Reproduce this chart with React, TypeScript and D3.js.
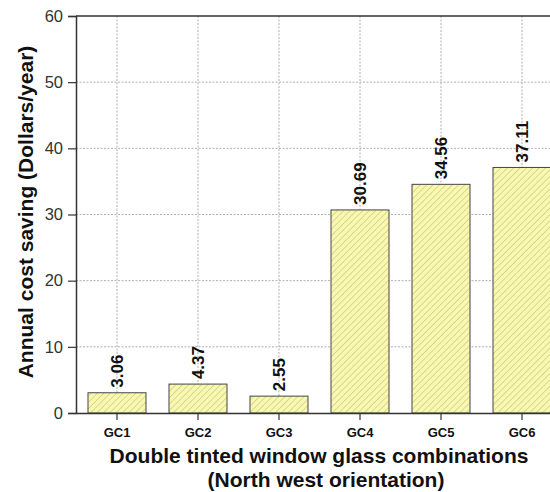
import React, { useEffect, useRef } from 'react';
import * as d3 from 'd3';

const categories = ['GC1', 'GC2', 'GC3', 'GC4', 'GC5', 'GC6'];
const savings = [3.06, 4.37, 2.55, 30.69, 34.56, 37.11];
const yTicks = [0, 10, 20, 30, 40, 50, 60];

export default function App() {
  const ref = useRef<SVGSVGElement>(null);

  useEffect(() => {
    if (!ref.current) return;
    const svg = d3.select(ref.current);
    svg.selectAll('*').remove();

    const height = 492;
    const margin = { top: 16, left: 76, bottom: 79 };
    const plotRight = 563; // runs past the window edge, as in the original

    const font = 'Arial, "Liberation Sans", sans-serif';

    // ------- Hatch pattern -------
    const defs = svg.append('defs');
    const pat = defs.append('pattern')
      .attr('id', 'hatch')
      .attr('patternUnits', 'userSpaceOnUse')
      .attr('width', 4.5)
      .attr('height', 4.5)
      .attr('patternTransform', 'rotate(45)');
    pat.append('rect').attr('width', 4.5).attr('height', 4.5).attr('fill', '#f8f8b2');
    pat.append('line')
      .attr('x1', 0).attr('y1', 0).attr('x2', 0).attr('y2', 4.5)
      .attr('stroke', '#bcbc66').attr('stroke-width', 1);

    // ------- Scales -------
    const x = d3.scaleBand<string>()
      .domain(categories)
      .range([margin.left, plotRight])
      .paddingInner(0.284)
      .paddingOuter(0.148);

    const y = d3.scaleLinear()
      .domain([0, 60])
      .range([height - margin.bottom, margin.top]);

    const cx = (c: string) => x(c)! + x.bandwidth() / 2;

    // ------- Grid -------
    const grid = svg.append('g')
      .attr('stroke', '#b0b0b0')
      .attr('stroke-width', 1)
      .attr('stroke-dasharray', '2,1.5');
    grid.selectAll('line.h')
      .data(yTicks.filter((t) => t > 0 && t < 60))
      .enter()
      .append('line')
      .attr('x1', margin.left)
      .attr('x2', plotRight)
      .attr('y1', (d) => y(d))
      .attr('y2', (d) => y(d));
    grid.selectAll('line.v')
      .data(categories)
      .enter()
      .append('line')
      .attr('x1', (d) => cx(d))
      .attr('x2', (d) => cx(d))
      .attr('y1', y(60))
      .attr('y2', y(0));

    // ------- Bars -------
    svg.selectAll('rect.bar')
      .data(categories)
      .enter()
      .append('rect')
      .attr('class', 'bar')
      .attr('x', (d) => x(d)!)
      .attr('width', x.bandwidth())
      .attr('y', (d, i) => y(savings[i]))
      .attr('height', (d, i) => y(0) - y(savings[i]))
      .attr('fill', 'url(#hatch)')
      .attr('stroke', '#444')
      .attr('stroke-width', 1);

    // ------- Value labels -------
    svg.selectAll('text.val')
      .data(categories)
      .enter()
      .append('text')
      .attr('class', 'val')
      .attr('transform', (d, i) => `translate(${cx(d) + 6}, ${y(savings[i]) - 5}) rotate(-90)`)
      .attr('font-family', font)
      .attr('font-size', 17)
      .attr('font-weight', 'bold')
      .attr('fill', '#111')
      .text((d, i) => savings[i].toFixed(2));

    // ------- Axes -------
    const yAxis = svg.append('g')
      .attr('transform', `translate(${margin.left}, 0)`)
      .call(d3.axisLeft(y).tickValues(yTicks).tickSize(8).tickPadding(5));
    yAxis.select('.domain').attr('stroke', '#333').attr('stroke-width', 1.5);
    yAxis.selectAll('.tick line').attr('stroke', '#333').attr('stroke-width', 1.2);
    yAxis.selectAll('.tick text')
      .attr('font-family', font)
      .attr('font-size', 16.5)
      .attr('fill', '#333');

    const xAxis = svg.append('g')
      .attr('transform', `translate(0, ${y(0)})`)
      .call(d3.axisBottom(x).tickSize(7).tickPadding(8).tickSizeOuter(0));
    xAxis.select('.domain').attr('stroke', '#333').attr('stroke-width', 1.5);
    xAxis.selectAll('.tick line').attr('stroke', '#333').attr('stroke-width', 1.2);
    xAxis.selectAll('.tick text')
      .attr('font-family', font)
      .attr('font-size', 13)
      .attr('font-weight', 'bold')
      .attr('fill', '#111');

    // top frame line
    svg.append('line')
      .attr('x1', margin.left)
      .attr('x2', plotRight)
      .attr('y1', y(60))
      .attr('y2', y(60))
      .attr('stroke', '#333')
      .attr('stroke-width', 1.5);

    // ------- Titles -------
    svg.append('text')
      .attr('x', 319)
      .attr('y', 463)
      .attr('text-anchor', 'middle')
      .attr('font-family', font)
      .attr('font-size', 21)
      .attr('font-weight', 'bold')
      .attr('fill', '#111')
      .text('Double tinted window glass combinations');

    svg.append('text')
      .attr('x', 326)
      .attr('y', 487)
      .attr('text-anchor', 'middle')
      .attr('font-family', font)
      .attr('font-size', 21)
      .attr('font-weight', 'bold')
      .attr('fill', '#111')
      .text('(North west orientation)');

    svg.append('text')
      .attr('transform', `translate(33, 212) rotate(-90)`)
      .attr('text-anchor', 'middle')
      .attr('font-family', font)
      .attr('font-size', 21)
      .attr('font-weight', 'bold')
      .attr('fill', '#111')
      .text('Annual cost saving (Dollars/year)');
  }, []);

  return (
    <svg
      ref={ref}
      width={550}
      height={492}
      style={{ position: 'absolute', left: 0, top: 0, background: '#fff' }}
    />
  );
}
